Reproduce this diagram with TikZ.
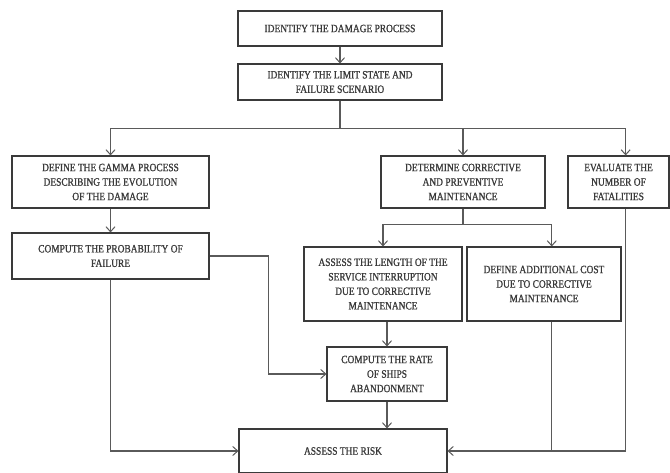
\documentclass[tikz,border=0pt]{standalone}
\usepackage{fontspec}
\setmainfont{Liberation Serif}[FakeStretch=0.84,FakeBold=1]
\usetikzlibrary{arrows.meta,calc}
\definecolor{boxc}{HTML}{3A3A3A}
\definecolor{linec}{HTML}{5A5A5A}
\definecolor{txtc}{HTML}{3A3A3A}
\begin{document}
\begin{tikzpicture}[x=1pt,y=-1pt,
  box/.style={draw=boxc,line width=1.1pt,rectangle,inner sep=0pt,align=center,
    text=txtc,font=\fontsize{11.2}{14.5}\selectfont},
  arr/.style={draw=linec,line width=1.2pt,-{Straight Barb[length=5pt,width=9pt,line width=1pt]}},
  ln/.style={draw=linec,line width=1.2pt}]
\fill[white] (0,0) rectangle (670,472);
\useasboundingbox (0,0) rectangle (670,472);
\node[box,minimum width=204pt,minimum height=35pt] (b1) at (340,28.5) {IDENTIFY THE DAMAGE PROCESS};
\node[box,minimum width=204pt,minimum height=36pt] (b2) at (340,82) {IDENTIFY THE LIMIT STATE AND\\FAILURE SCENARIO};
\node[box,minimum width=197pt,minimum height=52pt] (b3) at (110.5,182) {DEFINE THE GAMMA PROCESS\\DESCRIBING THE EVOLUTION\\OF THE DAMAGE};
\node[box,minimum width=197pt,minimum height=46pt] (b4) at (110.5,256) {COMPUTE THE PROBABILITY OF\\FAILURE};
\node[box,minimum width=164pt,minimum height=52pt] (b5) at (463,182) {DETERMINE CORRECTIVE\\AND PREVENTIVE\\MAINTENANCE};
\node[box,minimum width=101pt,minimum height=52pt] (b6) at (618.5,182) {EVALUATE THE\\NUMBER OF\\FATALITIES};
\node[box,minimum width=158pt,minimum height=74pt] (b7) at (383,284) {ASSESS THE LENGTH OF THE\\SERVICE INTERRUPTION\\DUE TO CORRECTIVE\\MAINTENANCE};
\node[box,minimum width=154pt,minimum height=74pt] (b8) at (544,284) {DEFINE ADDITIONAL COST\\DUE TO CORRECTIVE\\MAINTENANCE};
\node[box,minimum width=120pt,minimum height=54pt] (b9) at (387,374) {COMPUTE THE RATE\\OF SHIPS\\ABANDONMENT};
\node[box,minimum width=208pt,minimum height=44pt] (b10) at (343,451) {ASSESS THE RISK};
% helper coordinates
\coordinate (j1) at ($(b2.south)+(0,28)$);
\coordinate (a6) at ($(b6.north west)!0.57!(b6.north east)$);
\coordinate (s6) at ($(b6.south west)!0.57!(b6.south east)$);
\coordinate (j2) at ($(b5.south)+(0,16)$);
\coordinate (a8) at ($(b8.north west)!0.55!(b8.north east)$);
\coordinate (s8) at ($(b8.south west)!0.55!(b8.south east)$);
% connectors
\draw[arr] (b1.south) -- (b2.north);
\draw[ln] (b2.south) -- (j1);
\draw[arr] (j1) -| (b3.north);
\draw[arr] (j1) -| (b5.north);
\draw[arr] (j1) -| (a6);
\draw[arr] (b3.south) -- (b4.north);
\draw[ln] (b5.south) -- (j2);
\draw[arr] (j2) -| (b7.north);
\draw[arr] (j2) -| (a8);
\draw[arr] (b4.east) -- ++(59,0) |- (b9.west);
\draw[arr] (b9.north |- b7.south) -- (b9.north);
\draw[arr] (b9.south) -- (b9.south |- b10.north);
\draw[arr] (b4.south) |- (b10.west);
\draw[arr] (s6) |- (b10.east);
\draw[ln] (s8) -- (s8 |- b10.east);
\end{tikzpicture}
\end{document}
